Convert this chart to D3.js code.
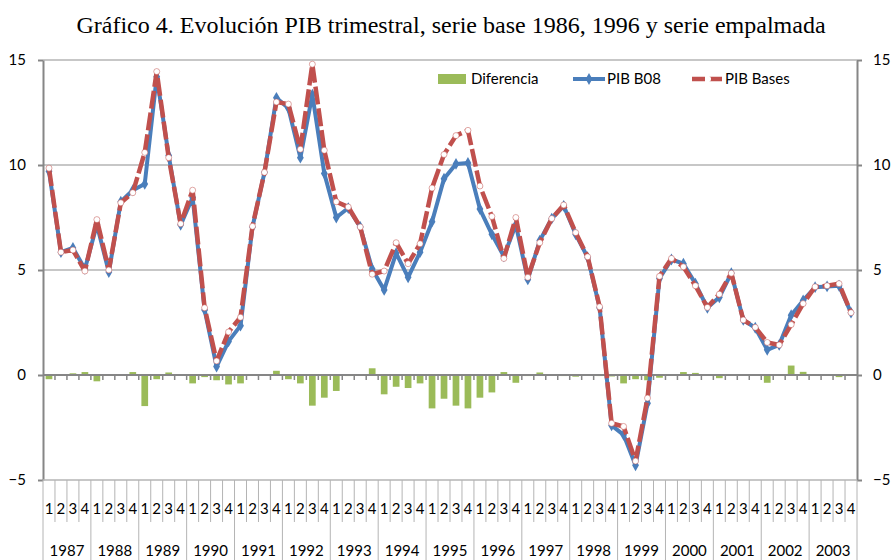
<!DOCTYPE html>
<html>
<head>
<meta charset="utf-8">
<title>Gráfico 4</title>
<script src="https://d3js.org/d3.v7.min.js"></script>
<style>
  body { margin: 0; background: #fff; }
  svg text { font-family: Lato, "Liberation Sans", sans-serif; fill: #000; }
</style>
</head>
<body>
<div id="chart"></div>
<script>
var years = [1987, 1988, 1989, 1990, 1991, 1992, 1993, 1994, 1995, 1996, 1997, 1998, 1999, 2000, 2001, 2002, 2003];
var quarters = ["1", "2", "3", "4"];
var yTicks = [-5, 0, 5, 10, 15];

// PIB B08 (azul)
var pibB08 = [9.7, 5.85, 6.05, 5.05, 7.15, 4.9, 8.25, 8.8,
  9.1, 14.2, 10.45, 7.15, 8.45, 3.1, 0.4, 1.6,
  2.35, 7.05, 9.65, 13.2, 12.7, 10.35, 13.35, 9.6,
  7.5, 7.95, 7.05, 5.05, 4.05, 5.8, 4.65, 5.85,
  7.3, 9.35, 10.05, 10.1, 7.9, 6.7, 5.65, 7.15,
  4.55, 6.4, 7.45, 8.05, 6.7, 5.6, 3.2, -2.4,
  -2.85, -4.3, -1.35, 4.6, 5.5, 5.3, 4.35, 3.2,
  3.7, 4.85, 2.62, 2.25, 1.2, 1.43, 2.85, 3.55,
  4.18, 4.22, 4.25, 2.97];

// PIB Bases (rojo, discontinua)
var pibBases = [9.85, 5.85, 5.95, 4.95, 7.4, 5.0, 8.2, 8.68,
  10.6, 14.45, 10.35, 7.2, 8.8, 3.2, 0.67, 2.05,
  2.75, 7.08, 9.65, 13.0, 12.9, 10.75, 14.8, 10.7,
  8.25, 8.0, 7.05, 4.8, 4.95, 6.3, 5.3, 6.25,
  8.9, 10.5, 11.4, 11.65, 9.0, 7.55, 5.55, 7.5,
  4.65, 6.3, 7.45, 8.1, 6.78, 5.63, 3.25, -2.3,
  -2.45, -4.1, -1.1, 4.7, 5.55, 5.15, 4.25, 3.22,
  3.85, 4.85, 2.62, 2.27, 1.55, 1.43, 2.4, 3.4,
  4.2, 4.25, 4.35, 2.97];

// Diferencia (barras verdes)
var diferencia = [-0.2, 0, 0.08, 0.14, -0.3, -0.03, 0, 0.14,
  -1.48, -0.2, 0.12, -0.03, -0.4, -0.1, -0.25, -0.45,
  -0.4, -0.03, 0, 0.2, -0.2, -0.4, -1.46, -1.08,
  -0.76, -0.05, 0, 0.32, -0.92, -0.56, -0.62, -0.4,
  -1.59, -1.13, -1.46, -1.59, -1.08, -0.83, 0.14, -0.37,
  -0.05, 0.12, 0, -0.05, -0.08, 0, -0.05, -0.07,
  -0.4, -0.2, -0.25, -0.13, -0.03, 0.14, 0.1, -0.03,
  -0.15, 0, 0, -0.02, -0.37, 0, 0.45, 0.15,
  -0.02, -0.03, -0.1, 0];

(function(d3) {
  'use strict';

  var categories = [];
  years.forEach(function(yr) {
    quarters.forEach(function(q) { categories.push(yr + "-" + q); });
  });

  var width = 891, height = 560;
  var plotLeft = 43, plotRight = 857, plotTop = 60, plotBottom = 480;

  var svg = d3.select("#chart").append("svg")
    .attr("width", width).attr("height", height);

  var x = d3.scaleBand().domain(categories).range([plotLeft, plotRight]).padding(0);
  var y = d3.scaleLinear().domain([-5, 15]).range([plotBottom, plotTop]);

  var gridColor = "#b4b4b4", axisColor = "#868686";

  // title
  svg.append("text")
    .attr("x", 451).attr("y", 33)
    .attr("text-anchor", "middle")
    .style("font-family", "'Liberation Serif', 'Times New Roman', serif")
    .style("font-size", "24px")
    .text("Gráfico 4. Evolución PIB trimestral, serie base 1986, 1996 y serie empalmada");

  // gridlines
  svg.append("g").selectAll("line")
    .data([5, 10, 15])
    .enter().append("line")
    .attr("x1", plotLeft).attr("x2", plotRight)
    .attr("y1", function(d) { return y(d); }).attr("y2", function(d) { return y(d); })
    .attr("stroke", gridColor).attr("stroke-width", 1.5);

  // left / right value axes
  var axL = svg.append("g").attr("transform", "translate(" + plotLeft + ",0)")
    .call(d3.axisLeft(y).tickValues(yTicks).tickSize(5).tickPadding(12).tickSizeOuter(0));
  var axR = svg.append("g").attr("transform", "translate(" + plotRight + ",0)")
    .call(d3.axisRight(y).tickValues(yTicks).tickSize(5).tickPadding(11).tickSizeOuter(0));
  [axL, axR].forEach(function(a) {
    a.selectAll("path,line").attr("stroke", axisColor).attr("stroke-width", 2);
    a.selectAll("text").style("font-size", "15px").style("font-family", "Lato, sans-serif");
  });

  // bottom line at -5
  svg.append("line")
    .attr("x1", plotLeft).attr("x2", plotRight)
    .attr("y1", y(-5)).attr("y2", y(-5))
    .attr("stroke", gridColor).attr("stroke-width", 1.5);

  // category separators and labels
  var bw = x.bandwidth();
  var sep = svg.append("g");
  categories.forEach(function(c, i) {
    var xb = x(c);
    var yearStart = i % 4 === 0;
    sep.append("line")
      .attr("x1", xb).attr("x2", xb)
      .attr("y1", y(-5)).attr("y2", yearStart ? height : 522)
      .attr("stroke", gridColor).attr("stroke-width", 1);
    sep.append("text")
      .attr("x", xb + bw / 2).attr("y", 514)
      .attr("text-anchor", "middle")
      .style("font-size", "15px")
      .text(c.split("-")[1]);
  });
  sep.append("line")
    .attr("x1", plotRight).attr("x2", plotRight)
    .attr("y1", y(-5)).attr("y2", height)
    .attr("stroke", gridColor).attr("stroke-width", 1);
  years.forEach(function(yr) {
    var x0 = x(yr + "-1"), x1 = x(yr + "-4") + bw;
    sep.append("text")
      .attr("x", (x0 + x1) / 2).attr("y", 556)
      .attr("text-anchor", "middle")
      .style("font-size", "15px")
      .text(yr);
  });

  // bars
  svg.append("g").selectAll("rect")
    .data(diferencia)
    .enter().append("rect")
    .attr("x", function(d, i) { return x(categories[i]) + bw * 0.22; })
    .attr("width", bw * 0.56)
    .attr("y", function(d) { return y(Math.max(0, d)); })
    .attr("height", function(d) { return Math.abs(y(d) - y(0)); })
    .attr("fill", "#9bbb59");

  // zero axis with ticks
  svg.append("line")
    .attr("x1", plotLeft).attr("x2", plotRight)
    .attr("y1", y(0)).attr("y2", y(0))
    .attr("stroke", axisColor).attr("stroke-width", 2);
  svg.append("g").selectAll("line")
    .data(categories.slice(1))
    .enter().append("line")
    .attr("x1", function(c) { return x(c); }).attr("x2", function(c) { return x(c); })
    .attr("y1", y(0)).attr("y2", y(0) + 5)
    .attr("stroke", axisColor).attr("stroke-width", 1.5);

  var cx = function(d, i) { return x(categories[i]) + bw / 2; };
  var line = d3.line().x(cx).y(function(d) { return y(d); });

  // PIB B08
  svg.append("path").datum(pibB08)
    .attr("d", line).attr("fill", "none")
    .attr("stroke", "#4a7ebb").attr("stroke-width", 4).attr("stroke-linejoin", "round");
  svg.append("g").selectAll("path")
    .data(pibB08).enter().append("path")
    .attr("d", d3.symbol().type(d3.symbolDiamond).size(40))
    .attr("transform", function(d, i) { return "translate(" + cx(d, i) + "," + y(d) + ")"; })
    .attr("fill", "#4a7ebb");

  // PIB Bases
  svg.append("path").datum(pibBases)
    .attr("d", line).attr("fill", "none")
    .attr("stroke", "#c0504d").attr("stroke-width", 4.5)
    .attr("stroke-dasharray", "18,4").attr("stroke-linejoin", "round");
  svg.append("g").selectAll("circle")
    .data(pibBases).enter().append("circle")
    .attr("cx", cx).attr("cy", function(d) { return y(d); })
    .attr("r", 3)
    .attr("fill", "#fff").attr("stroke", "#c0504d").attr("stroke-width", 0.5);

  // legend
  var lg = svg.append("g");
  lg.append("rect").attr("x", 438).attr("y", 74).attr("width", 28).attr("height", 10).attr("fill", "#9bbb59");
  lg.append("text").attr("x", 471).attr("y", 84).style("font-size", "15px").text("Diferencia");
  lg.append("line").attr("x1", 573).attr("x2", 605).attr("y1", 79).attr("y2", 79)
    .attr("stroke", "#4a7ebb").attr("stroke-width", 4);
  lg.append("path").attr("d", d3.symbol().type(d3.symbolDiamond).size(40))
    .attr("transform", "translate(589,79)").attr("fill", "#4a7ebb");
  lg.append("text").attr("x", 607).attr("y", 84).style("font-size", "15px").text("PIB B08");
  lg.append("line").attr("x1", 692).attr("x2", 723).attr("y1", 79).attr("y2", 79)
    .attr("stroke", "#c0504d").attr("stroke-width", 4.5).attr("stroke-dasharray", "13,4");
  lg.append("circle").attr("cx", 708).attr("cy", 79).attr("r", 3).attr("fill", "#fff");
  lg.append("text").attr("x", 725).attr("y", 84).style("font-size", "15px").text("PIB Bases");
})(window.d3);
</script>
</body>
</html>
